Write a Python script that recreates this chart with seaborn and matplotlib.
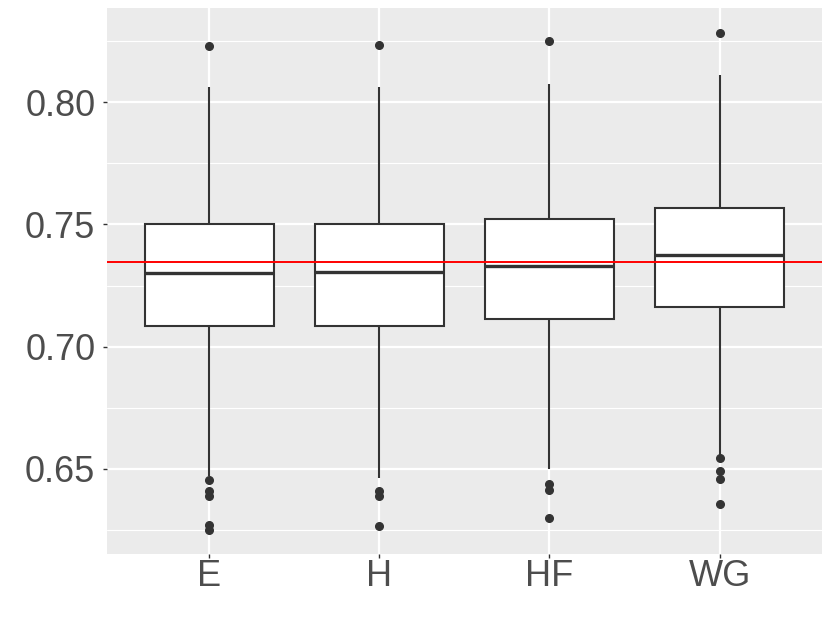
import matplotlib
matplotlib.use("Agg")
import matplotlib.pyplot as plt
import numpy as np
import pandas as pd
import seaborn as sns
from matplotlib.ticker import AutoMinorLocator

groups = ["E", "H", "HF", "WG"]

# 25 sorted values per group: Q1 = 7th, median = 13th, Q3 = 19th value
e_vals = [0.6252, 0.6271, 0.6391, 0.6411, 0.6455, 0.6470,
          0.7083, 0.712, 0.716, 0.720, 0.724, 0.727,
          0.7301, 0.733, 0.737, 0.741, 0.744, 0.747,
          0.7500, 0.755, 0.765, 0.780, 0.795, 0.8061, 0.8231]
h_vals = [0.6268, 0.6391, 0.6411, 0.6463, 0.670, 0.690,
          0.7083, 0.712, 0.716, 0.720, 0.724, 0.727,
          0.7304, 0.733, 0.737, 0.741, 0.744, 0.747,
          0.7502, 0.755, 0.765, 0.780, 0.795, 0.8060, 0.8233]
hf_vals = [0.6298, 0.6415, 0.6438, 0.6500, 0.672, 0.692,
           0.7112, 0.715, 0.719, 0.723, 0.727, 0.730,
           0.7328, 0.736, 0.740, 0.744, 0.747, 0.750,
           0.7522, 0.757, 0.767, 0.782, 0.797, 0.8076, 0.8252]
wg_vals = [0.6358, 0.6461, 0.6493, 0.6545, 0.6552, 0.690,
           0.7161, 0.720, 0.724, 0.728, 0.732, 0.735,
           0.7376, 0.741, 0.745, 0.749, 0.752, 0.755,
           0.7569, 0.762, 0.772, 0.787, 0.800, 0.8112, 0.8283]
ref_value = 0.7345

df = pd.DataFrame({
    "group": np.repeat(groups, 25),
    "value": e_vals + h_vals + hf_vals + wg_vals,
})

sns.set_theme(style="darkgrid")
plt.rcParams["font.family"] = ["Liberation Sans", "DejaVu Sans"]

fig, ax = plt.subplots(figsize=(8.3, 6.23), dpi=100)
fig.subplots_adjust(left=0.129, right=0.990, top=0.987, bottom=0.110)
ax.set_facecolor("#EBEBEB")

sns.boxplot(
    data=df, x="group", y="value", order=groups, ax=ax,
    width=0.76, color="white", saturation=1, linecolor="#333333",
    linewidth=1.5, showcaps=False,
    medianprops={"linewidth": 2.4, "color": "#333333"},
    flierprops={"marker": "o", "markersize": 5.5, "markerfacecolor": "#333333",
                "markeredgecolor": "#333333"},
)
ax.axhline(ref_value, color="red", linewidth=1.4, zorder=10)

lo, hi = df["value"].min(), df["value"].max()
pad = (hi - lo) * 0.05
ax.set_ylim(lo - pad, hi + pad)
ax.set_xlim(-0.6, len(groups) - 0.4)
ax.set_yticks([0.65, 0.70, 0.75, 0.80])
ax.set_yticklabels(["0.65", "0.70", "0.75", "0.80"])
ax.yaxis.set_minor_locator(AutoMinorLocator(2))

ax.set_axisbelow(True)
ax.grid(which="major", color="white", linewidth=1.6)
ax.grid(which="minor", axis="y", color="white", linewidth=0.8)
for s in ax.spines.values():
    s.set_visible(False)

ax.tick_params(axis="both", which="major", labelsize=26, labelcolor="#4D4D4D",
               length=3, width=1.0, color="#333333", bottom=True, left=True)
ax.tick_params(axis="x", which="major", pad=0.5)
ax.tick_params(axis="y", which="major", pad=5.5)
ax.tick_params(axis="y", which="minor", length=0)
ax.set_xlabel("")
ax.set_ylabel("")

fig.savefig("out.png", dpi=100)
